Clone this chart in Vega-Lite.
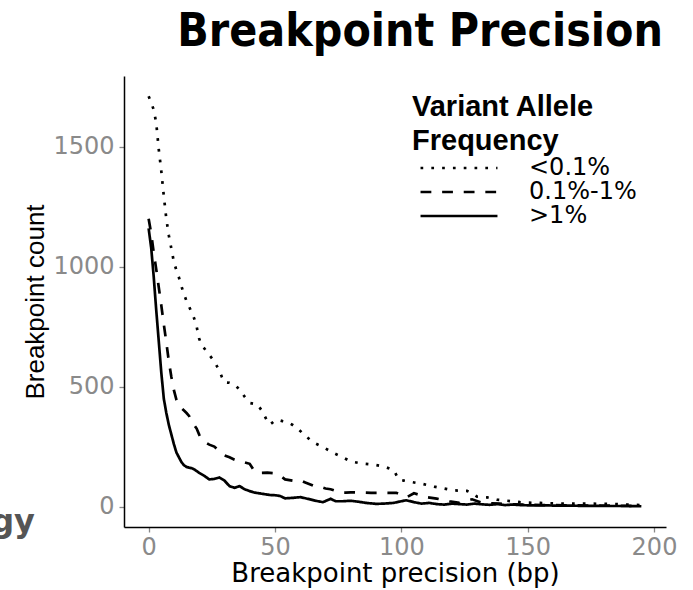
{
  "$schema": "https://vega.github.io/schema/vega-lite/v6.json",
  "width": 542,
  "height": 451,
  "autosize": {"type": "none"},
  "padding": {"left": 124, "top": 76, "right": 27, "bottom": 63},
  "background": "white",
  "title": {"text": "Breakpoint Precision", "font": "DejaVu Sans Condensed", "fontWeight": "bold", "fontSize": 46, "anchor": "end", "color": "black", "offset": 20, "dx": -14},
  "config": {
    "view": {"stroke": null},
    "axis": {"labelFont": "DejaVu Sans", "labelFontSize": 24, "labelColor": "#8a8a8a", "titleFont": "DejaVu Sans", "titleFontSize": 26, "titleColor": "black", "titleFontWeight": "normal", "domainColor": "black", "domainWidth": 1.5, "tickColor": "#888888", "tickSize": 5, "tickWidth": 1.3, "grid": false, "labelPadding": 3, "format": "d"}
  },
  "datasets": {
    "curves": [
      {"x": 0, "n": 1711, "vaf": "<0.1%"}, {"x": 1, "n": 1685, "vaf": "<0.1%"}, {"x": 2, "n": 1655, "vaf": "<0.1%"}, {"x": 3, "n": 1600, "vaf": "<0.1%"}, {"x": 4, "n": 1490, "vaf": "<0.1%"}, {"x": 5, "n": 1400, "vaf": "<0.1%"}, {"x": 6, "n": 1295, "vaf": "<0.1%"}, {"x": 7, "n": 1200, "vaf": "<0.1%"}, {"x": 8, "n": 1130, "vaf": "<0.1%"}, {"x": 9, "n": 1075, "vaf": "<0.1%"}, {"x": 10, "n": 1020, "vaf": "<0.1%"}, {"x": 11, "n": 985, "vaf": "<0.1%"}, {"x": 12, "n": 955, "vaf": "<0.1%"}, {"x": 13, "n": 918, "vaf": "<0.1%"}, {"x": 14, "n": 885, "vaf": "<0.1%"}, {"x": 15, "n": 857, "vaf": "<0.1%"}, {"x": 16, "n": 834, "vaf": "<0.1%"}, {"x": 17, "n": 810, "vaf": "<0.1%"}, {"x": 18, "n": 785, "vaf": "<0.1%"}, {"x": 19, "n": 750, "vaf": "<0.1%"}, {"x": 20, "n": 700, "vaf": "<0.1%"}, {"x": 21, "n": 672, "vaf": "<0.1%"}, {"x": 22, "n": 660, "vaf": "<0.1%"}, {"x": 23, "n": 645, "vaf": "<0.1%"}, {"x": 24, "n": 632, "vaf": "<0.1%"}, {"x": 26, "n": 606, "vaf": "<0.1%"}, {"x": 28, "n": 565, "vaf": "<0.1%"}, {"x": 29, "n": 540, "vaf": "<0.1%"}, {"x": 30, "n": 518, "vaf": "<0.1%"}, {"x": 32, "n": 516, "vaf": "<0.1%"}, {"x": 34, "n": 508, "vaf": "<0.1%"}, {"x": 36, "n": 488, "vaf": "<0.1%"}, {"x": 38, "n": 458, "vaf": "<0.1%"}, {"x": 40, "n": 432, "vaf": "<0.1%"}, {"x": 43, "n": 426, "vaf": "<0.1%"}, {"x": 45, "n": 397, "vaf": "<0.1%"}, {"x": 47, "n": 355, "vaf": "<0.1%"}, {"x": 48, "n": 342, "vaf": "<0.1%"}, {"x": 50, "n": 358, "vaf": "<0.1%"}, {"x": 51, "n": 362, "vaf": "<0.1%"}, {"x": 53, "n": 356, "vaf": "<0.1%"}, {"x": 55, "n": 352, "vaf": "<0.1%"}, {"x": 57, "n": 340, "vaf": "<0.1%"}, {"x": 59, "n": 325, "vaf": "<0.1%"}, {"x": 62, "n": 295, "vaf": "<0.1%"}, {"x": 65, "n": 268, "vaf": "<0.1%"}, {"x": 69, "n": 248, "vaf": "<0.1%"}, {"x": 73, "n": 224, "vaf": "<0.1%"}, {"x": 77, "n": 204, "vaf": "<0.1%"}, {"x": 80, "n": 188, "vaf": "<0.1%"}, {"x": 84, "n": 180, "vaf": "<0.1%"}, {"x": 89, "n": 175, "vaf": "<0.1%"}, {"x": 93, "n": 167, "vaf": "<0.1%"}, {"x": 97, "n": 152, "vaf": "<0.1%"}, {"x": 99, "n": 112, "vaf": "<0.1%"}, {"x": 101, "n": 108, "vaf": "<0.1%"}, {"x": 104, "n": 102, "vaf": "<0.1%"}, {"x": 108, "n": 95, "vaf": "<0.1%"}, {"x": 113, "n": 83, "vaf": "<0.1%"}, {"x": 117, "n": 75, "vaf": "<0.1%"}, {"x": 121, "n": 67, "vaf": "<0.1%"}, {"x": 126, "n": 65, "vaf": "<0.1%"}, {"x": 128, "n": 55, "vaf": "<0.1%"}, {"x": 130, "n": 41, "vaf": "<0.1%"}, {"x": 134, "n": 38, "vaf": "<0.1%"}, {"x": 138, "n": 28, "vaf": "<0.1%"}, {"x": 142, "n": 24, "vaf": "<0.1%"}, {"x": 147, "n": 18, "vaf": "<0.1%"}, {"x": 150, "n": 16, "vaf": "<0.1%"}, {"x": 155, "n": 15, "vaf": "<0.1%"}, {"x": 160, "n": 13, "vaf": "<0.1%"}, {"x": 165, "n": 12, "vaf": "<0.1%"}, {"x": 170, "n": 12, "vaf": "<0.1%"}, {"x": 175, "n": 12, "vaf": "<0.1%"}, {"x": 180, "n": 11, "vaf": "<0.1%"}, {"x": 185, "n": 10, "vaf": "<0.1%"}, {"x": 190, "n": 8, "vaf": "<0.1%"}, {"x": 195, "n": 6, "vaf": "<0.1%"},
      {"x": 0, "n": 1200, "vaf": "0.1%-1%"}, {"x": 1, "n": 1140, "vaf": "0.1%-1%"}, {"x": 2, "n": 1060, "vaf": "0.1%-1%"}, {"x": 3, "n": 990, "vaf": "0.1%-1%"}, {"x": 4, "n": 915, "vaf": "0.1%-1%"}, {"x": 5, "n": 840, "vaf": "0.1%-1%"}, {"x": 6, "n": 760, "vaf": "0.1%-1%"}, {"x": 7, "n": 685, "vaf": "0.1%-1%"}, {"x": 8, "n": 605, "vaf": "0.1%-1%"}, {"x": 9, "n": 540, "vaf": "0.1%-1%"}, {"x": 10, "n": 485, "vaf": "0.1%-1%"}, {"x": 11, "n": 445, "vaf": "0.1%-1%"}, {"x": 12, "n": 420, "vaf": "0.1%-1%"}, {"x": 13, "n": 410, "vaf": "0.1%-1%"}, {"x": 14, "n": 400, "vaf": "0.1%-1%"}, {"x": 15, "n": 390, "vaf": "0.1%-1%"}, {"x": 16, "n": 378, "vaf": "0.1%-1%"}, {"x": 17, "n": 355, "vaf": "0.1%-1%"}, {"x": 18, "n": 340, "vaf": "0.1%-1%"}, {"x": 19, "n": 325, "vaf": "0.1%-1%"}, {"x": 20, "n": 300, "vaf": "0.1%-1%"}, {"x": 21, "n": 280, "vaf": "0.1%-1%"}, {"x": 22, "n": 270, "vaf": "0.1%-1%"}, {"x": 24, "n": 258, "vaf": "0.1%-1%"}, {"x": 26, "n": 250, "vaf": "0.1%-1%"}, {"x": 28, "n": 230, "vaf": "0.1%-1%"}, {"x": 30, "n": 213, "vaf": "0.1%-1%"}, {"x": 32, "n": 205, "vaf": "0.1%-1%"}, {"x": 34, "n": 195, "vaf": "0.1%-1%"}, {"x": 36, "n": 187, "vaf": "0.1%-1%"}, {"x": 38, "n": 184, "vaf": "0.1%-1%"}, {"x": 40, "n": 178, "vaf": "0.1%-1%"}, {"x": 42, "n": 145, "vaf": "0.1%-1%"}, {"x": 44, "n": 140, "vaf": "0.1%-1%"}, {"x": 47, "n": 141, "vaf": "0.1%-1%"}, {"x": 50, "n": 138, "vaf": "0.1%-1%"}, {"x": 52, "n": 129, "vaf": "0.1%-1%"}, {"x": 54, "n": 113, "vaf": "0.1%-1%"}, {"x": 57, "n": 108, "vaf": "0.1%-1%"}, {"x": 60, "n": 110, "vaf": "0.1%-1%"}, {"x": 62, "n": 100, "vaf": "0.1%-1%"}, {"x": 64, "n": 92, "vaf": "0.1%-1%"}, {"x": 66, "n": 83, "vaf": "0.1%-1%"}, {"x": 68, "n": 82, "vaf": "0.1%-1%"}, {"x": 70, "n": 75, "vaf": "0.1%-1%"}, {"x": 72, "n": 72, "vaf": "0.1%-1%"}, {"x": 74, "n": 65, "vaf": "0.1%-1%"}, {"x": 76, "n": 58, "vaf": "0.1%-1%"}, {"x": 78, "n": 58, "vaf": "0.1%-1%"}, {"x": 80, "n": 59, "vaf": "0.1%-1%"}, {"x": 84, "n": 58, "vaf": "0.1%-1%"}, {"x": 88, "n": 57, "vaf": "0.1%-1%"}, {"x": 92, "n": 57, "vaf": "0.1%-1%"}, {"x": 96, "n": 57, "vaf": "0.1%-1%"}, {"x": 98, "n": 57, "vaf": "0.1%-1%"}, {"x": 100, "n": 48, "vaf": "0.1%-1%"}, {"x": 102, "n": 38, "vaf": "0.1%-1%"}, {"x": 105, "n": 55, "vaf": "0.1%-1%"}, {"x": 108, "n": 46, "vaf": "0.1%-1%"}, {"x": 110, "n": 39, "vaf": "0.1%-1%"}, {"x": 114, "n": 33, "vaf": "0.1%-1%"}, {"x": 119, "n": 22, "vaf": "0.1%-1%"}, {"x": 123, "n": 15, "vaf": "0.1%-1%"}, {"x": 128, "n": 30, "vaf": "0.1%-1%"}, {"x": 132, "n": 15, "vaf": "0.1%-1%"}, {"x": 136, "n": 13, "vaf": "0.1%-1%"}, {"x": 139, "n": 12, "vaf": "0.1%-1%"}, {"x": 142, "n": 10, "vaf": "0.1%-1%"}, {"x": 145, "n": 9, "vaf": "0.1%-1%"}, {"x": 148, "n": 8, "vaf": "0.1%-1%"}, {"x": 152, "n": 7, "vaf": "0.1%-1%"}, {"x": 156, "n": 6, "vaf": "0.1%-1%"}, {"x": 160, "n": 6, "vaf": "0.1%-1%"}, {"x": 165, "n": 5, "vaf": "0.1%-1%"}, {"x": 170, "n": 5, "vaf": "0.1%-1%"}, {"x": 175, "n": 4, "vaf": "0.1%-1%"}, {"x": 180, "n": 4, "vaf": "0.1%-1%"}, {"x": 185, "n": 3, "vaf": "0.1%-1%"}, {"x": 190, "n": 3, "vaf": "0.1%-1%"}, {"x": 195, "n": 2, "vaf": "0.1%-1%"},
      {"x": 0, "n": 1160, "vaf": ">1%"}, {"x": 1, "n": 1080, "vaf": ">1%"}, {"x": 2, "n": 960, "vaf": ">1%"}, {"x": 3, "n": 820, "vaf": ">1%"}, {"x": 4, "n": 690, "vaf": ">1%"}, {"x": 5, "n": 560, "vaf": ">1%"}, {"x": 6, "n": 450, "vaf": ">1%"}, {"x": 7, "n": 390, "vaf": ">1%"}, {"x": 8, "n": 340, "vaf": ">1%"}, {"x": 9, "n": 300, "vaf": ">1%"}, {"x": 10, "n": 260, "vaf": ">1%"}, {"x": 11, "n": 225, "vaf": ">1%"}, {"x": 12, "n": 205, "vaf": ">1%"}, {"x": 13, "n": 185, "vaf": ">1%"}, {"x": 14, "n": 172, "vaf": ">1%"}, {"x": 15, "n": 165, "vaf": ">1%"}, {"x": 16, "n": 162, "vaf": ">1%"}, {"x": 17, "n": 160, "vaf": ">1%"}, {"x": 18, "n": 155, "vaf": ">1%"}, {"x": 19, "n": 148, "vaf": ">1%"}, {"x": 20, "n": 140, "vaf": ">1%"}, {"x": 22, "n": 128, "vaf": ">1%"}, {"x": 24, "n": 113, "vaf": ">1%"}, {"x": 26, "n": 115, "vaf": ">1%"}, {"x": 28, "n": 121, "vaf": ">1%"}, {"x": 30, "n": 108, "vaf": ">1%"}, {"x": 32, "n": 85, "vaf": ">1%"}, {"x": 34, "n": 78, "vaf": ">1%"}, {"x": 36, "n": 85, "vaf": ">1%"}, {"x": 38, "n": 72, "vaf": ">1%"}, {"x": 40, "n": 64, "vaf": ">1%"}, {"x": 42, "n": 58, "vaf": ">1%"}, {"x": 45, "n": 53, "vaf": ">1%"}, {"x": 48, "n": 48, "vaf": ">1%"}, {"x": 50, "n": 47, "vaf": ">1%"}, {"x": 52, "n": 44, "vaf": ">1%"}, {"x": 54, "n": 34, "vaf": ">1%"}, {"x": 57, "n": 36, "vaf": ">1%"}, {"x": 60, "n": 39, "vaf": ">1%"}, {"x": 63, "n": 32, "vaf": ">1%"}, {"x": 66, "n": 24, "vaf": ">1%"}, {"x": 69, "n": 18, "vaf": ">1%"}, {"x": 72, "n": 32, "vaf": ">1%"}, {"x": 74, "n": 22, "vaf": ">1%"}, {"x": 77, "n": 22, "vaf": ">1%"}, {"x": 80, "n": 24, "vaf": ">1%"}, {"x": 83, "n": 20, "vaf": ">1%"}, {"x": 86, "n": 15, "vaf": ">1%"}, {"x": 90, "n": 11, "vaf": ">1%"}, {"x": 93, "n": 12, "vaf": ">1%"}, {"x": 97, "n": 15, "vaf": ">1%"}, {"x": 100, "n": 22, "vaf": ">1%"}, {"x": 102, "n": 26, "vaf": ">1%"}, {"x": 105, "n": 18, "vaf": ">1%"}, {"x": 108, "n": 12, "vaf": ">1%"}, {"x": 111, "n": 15, "vaf": ">1%"}, {"x": 114, "n": 10, "vaf": ">1%"}, {"x": 117, "n": 8, "vaf": ">1%"}, {"x": 120, "n": 12, "vaf": ">1%"}, {"x": 123, "n": 10, "vaf": ">1%"}, {"x": 126, "n": 8, "vaf": ">1%"}, {"x": 129, "n": 12, "vaf": ">1%"}, {"x": 132, "n": 9, "vaf": ">1%"}, {"x": 135, "n": 7, "vaf": ">1%"}, {"x": 138, "n": 10, "vaf": ">1%"}, {"x": 141, "n": 6, "vaf": ">1%"}, {"x": 144, "n": 8, "vaf": ">1%"}, {"x": 147, "n": 6, "vaf": ">1%"}, {"x": 150, "n": 5, "vaf": ">1%"}, {"x": 155, "n": 5, "vaf": ">1%"}, {"x": 160, "n": 4, "vaf": ">1%"}, {"x": 165, "n": 4, "vaf": ">1%"}, {"x": 170, "n": 3, "vaf": ">1%"}, {"x": 175, "n": 3, "vaf": ">1%"}, {"x": 180, "n": 2, "vaf": ">1%"}, {"x": 185, "n": 2, "vaf": ">1%"}, {"x": 190, "n": 2, "vaf": ">1%"}, {"x": 195, "n": 1, "vaf": ">1%"}
    ],
    "fragment": [{"label": "gy", "x": -45, "n": -107}]
  },
  "layer": [
    {
      "data": {"name": "curves"},
      "mark": {"type": "line", "color": "black", "strokeWidth": 2.7, "clip": false},
      "encoding": {
        "x": {"field": "x", "type": "quantitative", "scale": {"domain": [-9.75, 204.75], "nice": false, "zero": false}, "axis": {"values": [0, 50, 100, 150, 200], "title": "Breakpoint precision (bp)", "titlePadding": 1}},
        "y": {"field": "n", "type": "quantitative", "scale": {"domain": [-85.5, 1795.5], "nice": false, "zero": false}, "axis": {"values": [0, 500, 1000, 1500], "title": "Breakpoint count", "titleFont": "Liberation Sans", "titleFontSize": 26, "titlePadding": 4, "labelPadding": 5}},
        "strokeDash": {
          "field": "vaf", "type": "nominal",
          "scale": {"domain": ["<0.1%", "0.1%-1%", ">1%"], "range": [[2.7, 8.1], [10.8, 10.8], [1, 0]]},
          "legend": {"title": ["Variant Allele", "Frequency"], "orient": "none", "legendX": 288, "legendY": 17, "titleFont": "Liberation Sans", "titleFontSize": 29, "titleFontWeight": "bold", "titleColor": "black", "titleLineHeight": 34, "titlePadding": 0, "titleLimit": 400, "labelFont": "DejaVu Sans", "labelFontSize": 24, "labelColor": "black", "labelLimit": 300, "symbolType": "M-4,0H4", "symbolSize": 370, "symbolStrokeWidth": 2.7, "symbolStrokeColor": "black", "symbolOffset": 35, "labelOffset": 58, "rowPadding": 0, "padding": 0}
        }
      }
    },
    {
      "data": {"name": "fragment"},
      "mark": {"type": "text", "align": "right", "baseline": "alphabetic", "font": "DejaVu Sans", "fontWeight": "bold", "fontSize": 32, "color": "#555555"},
      "encoding": {
        "x": {"field": "x", "type": "quantitative"},
        "y": {"field": "n", "type": "quantitative"},
        "text": {"field": "label"}
      }
    }
  ]
}
